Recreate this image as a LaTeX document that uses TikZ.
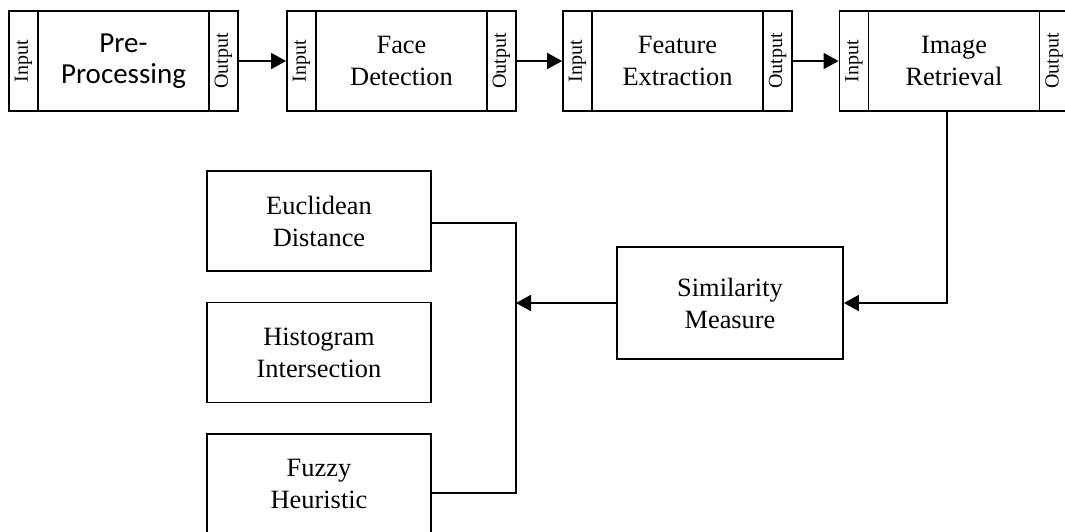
\documentclass[tikz,border=0pt]{standalone}
\usepackage{fontspec}
\setmainfont{Liberation Serif}
\newfontfamily\calibrifont{Carlito}
\usetikzlibrary{arrows.meta}
\newcommand{\inp} {\rotatebox{90}{\fontsize{10}{12}\selectfont Input}}
\newcommand{\outp}{\rotatebox{90}{\fontsize{10}{12}\selectfont Output}}

\begin{document}
\begin{tikzpicture}[x=0.5pt,y=-0.5pt,line width=0.9pt,
   box/.style={draw,inner sep=0pt,align=center,font=\fontsize{13.2}{16}\selectfont},
   strip/.style={box,minimum width=14.5pt,minimum height=50pt},
   blk/.style={box,minimum width=85.5pt,minimum height=50pt},
   side/.style={box,minimum width=112pt,minimum height=50pt},
   arr/.style={-{Triangle[length=7.5pt,width=8pt]}}]
   \useasboundingbox (0,0) rectangle (1065,531);
   % top row
   \node[strip] (in1)  at (23.5,61)  {\inp};
   \node[blk,font=\calibrifont\fontsize{14.5}{15.5}\selectfont]
                (pre)  at (123.5,61) {Pre-\\Processing};
   \node[strip] (out1) at (223.5,61) {\outp};
   \node[strip] (in2)  at (301.5,61) {\inp};
   \node[blk]   (face) at (401.5,61) {Face\\Detection};
   \node[strip] (out2) at (501.5,61) {\outp};
   \node[strip] (in3)  at (577.5,61) {\inp};
   \node[blk]   (feat) at (677.5,61) {Feature\\Extraction};
   \node[strip] (out3) at (777.5,61) {\outp};
   \node[strip] (in4)  at (854,61)   {\inp};
   \node[blk]   (ret)  at (954,61)   {Image\\Retrieval};
   \node[strip] (out4) at (1054,61)  {\outp};
   \draw[arr] (out1) -- (in2);
   \draw[arr] (out2) -- (in3);
   \draw[arr] (out3) -- (in4);
   % similarity and its measures
   \node[box,minimum width=113pt,minimum height=56pt]
               (sim)  at (730,303)  {Similarity\\Measure};
   \node[side] (euc)  at (319,221)  {Euclidean\\Distance};
   \node[side] (hist) at (319,352.5) {Histogram\\Intersection};
   \node[side] (fuz)  at (319,484)  {Fuzzy\\Heuristic};
   \coordinate (bus) at (516,303);
   \draw[arr] ([xshift=-3.5pt]ret.south) |- (sim.east);
   \draw[arr] (sim.west) -- (bus);
   \draw ([yshift=-1pt]euc.east) -| (bus) |- ([yshift=-4.5pt]fuz.east);
\end{tikzpicture}
\end{document}
